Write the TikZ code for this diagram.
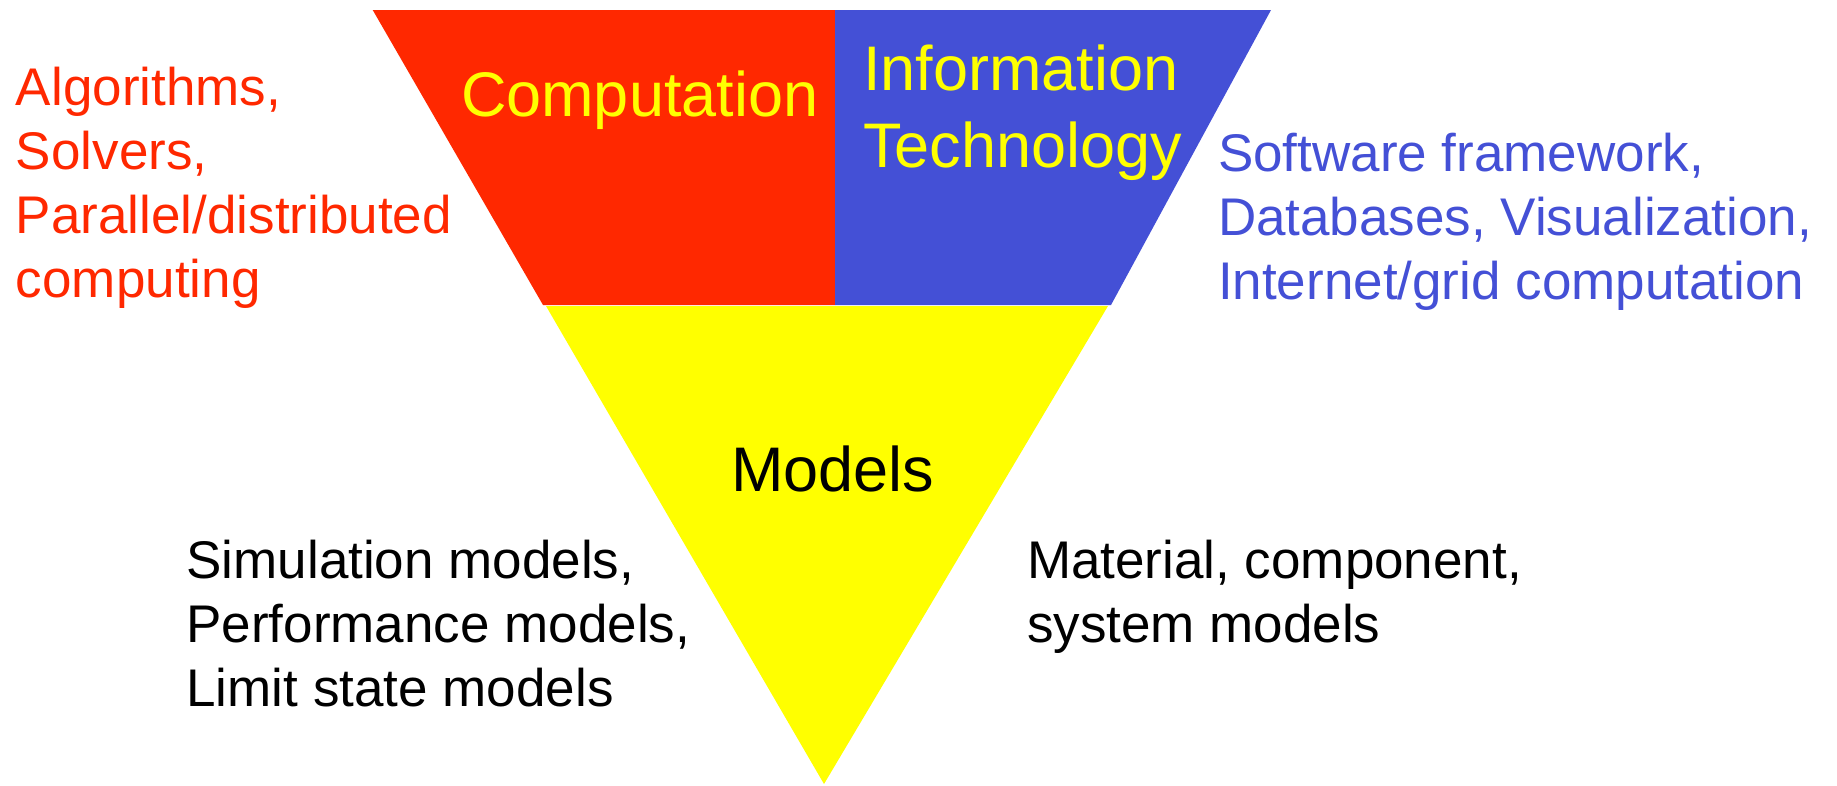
\documentclass[tikz,border=0pt]{standalone}
\usepackage{fontspec}
\setmainfont{Liberation Sans}
\definecolor{cred}{RGB}{255,40,0}
\definecolor{cblue}{RGB}{68,80,214}
\definecolor{cyel}{RGB}{255,255,0}
\begin{document}
\begin{tikzpicture}[x=1pt,y=-1pt,
  txt/.style={anchor=base west, inner sep=0pt, outer sep=0pt},
  big/.style={font=\fontsize{63}{76.7}\selectfont},
  small/.style={font=\fontsize{53}{64}\selectfont}]
\useasboundingbox (0,0) rectangle (1837,785);
% shapes
\fill[cred] (372.7,10) -- (835,10) -- (835,305) -- (543,305) -- cycle;
\fill[cblue] (835,10) -- (1271,10) -- (1111,305) -- (835,305) -- cycle;
\fill[cyel] (546,306) -- (1108,306) -- (824,784) -- cycle;
% titles
\node[txt,big,text=cyel] (comp) at (461,116) {Computation};
\node[txt,big,text=cyel] (it) at (863,90.7) {\vtop{\hbox{Information}\hbox{Technology}}};
\node[txt,big,text=black] (models) at (731,491) {Models};
% side texts
\node[txt,small,text=cred] (alg) at (16,105) {\vtop{\hbox{Algorithms,}\hbox{Solvers,}\hbox{Parallel/distributed}\hbox{computing}}};
\node[txt,small,text=cblue] (soft) at (1218,171) {\vtop{\hbox{Software framework,}\hbox{Databases, Visualization,}\hbox{Internet/grid computation}}};
\node[txt,small,text=black] (sim) at (186.5,578.5) {\vtop{\hbox{Simulation models,}\hbox{Performance models,}\hbox{Limit state models}}};
\node[txt,small,text=black] (mat) at (1027,578.5) {\vtop{\hbox{Material, component,}\hbox{system models}}};
\end{tikzpicture}
\end{document}
